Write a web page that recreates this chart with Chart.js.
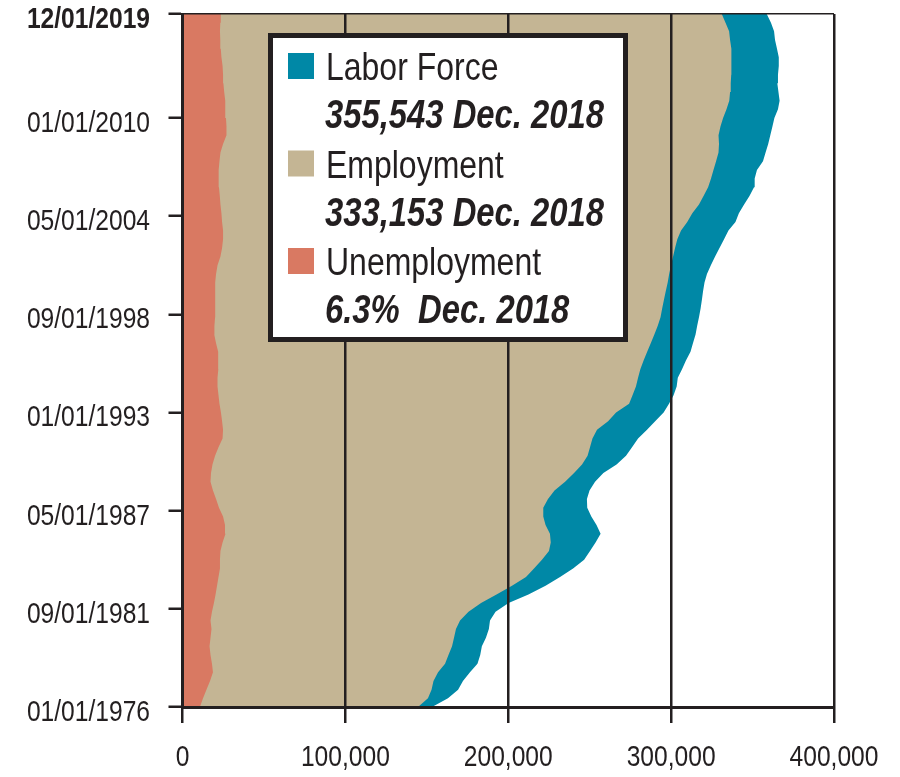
<!DOCTYPE html>
<html>
<head>
<meta charset="utf-8">
<script src="https://cdn.jsdelivr.net/npm/chart.js@4.4.1/dist/chart.umd.min.js"></script>
<style>
  body { margin: 0; background: #fff; }
  #wrap { width: 900px; height: 777px; }
</style>
</head>
<body>
<div id="wrap"><canvas id="chart" width="900" height="777"></canvas></div>
<script>
// Meses desde enero de 1976 (eje vertical)
const months = [0, 6, 12, 18, 24, 30, 36, 42, 48, 54, 60, 66, 72, 78, 84, 90, 96, 102, 108, 114,
  120, 126, 132, 138, 144, 150, 156, 162, 168, 174, 180, 186, 192, 198, 204, 210, 216, 222, 228, 234,
  240, 246, 252, 258, 264, 270, 276, 282, 288, 294, 300, 306, 312, 318, 324, 330, 336, 342, 348, 354,
  360, 366, 372, 378, 384, 390, 396, 402, 408, 414, 420, 426, 432, 438, 444, 450, 456, 462, 468, 474, 480];

const laborForce = [153200, 163000, 169200, 172200, 176500, 181100, 182800, 183800, 186300, 188100,
  188800, 192200, 200200, 212400, 222900, 231800, 239800, 246600, 250200, 253600,
  256700, 254200, 251000, 248500, 248300, 249900, 253300, 258400, 266500, 272300,
  276000, 279700, 285200, 290200, 295400, 298700, 301500, 303400, 304100, 306700,
  309100, 311900, 313400, 315000, 316000, 317100, 318100, 318900, 319600, 320500,
  322000, 324400, 327000, 329700, 332500, 335200, 339500, 341600, 344800, 348100,
  350900, 351300, 352700, 356400, 358000, 359600, 360900, 362200, 363400, 365600,
  366600, 365900, 365200, 365600, 366100, 366100, 365000, 363800, 363200, 361300, 358700];

const employment = [144600, 150700, 152900, 154100, 156900, 161200, 163300, 165500, 166700, 167900,
  170400, 175600, 183300, 192800, 202300, 210900, 215800, 220700, 225000, 226100,
  225600, 222900, 221500, 221500, 224400, 228400, 234900, 240400, 245300, 248700,
  250200, 251700, 254500, 261300, 266200, 274200, 276300, 278400, 279700, 281100,
  283100, 285300, 287500, 289700, 291800, 293500, 294500, 295600, 296700, 297900,
  298800, 299900, 301200, 302400, 303800, 306100, 309900, 313000, 317100, 319900,
  322700, 324500, 326000, 327600, 329100, 329400, 329100, 330300, 331900, 334000,
  335700, 336200, 336600, 336900, 337200, 337000, 336800, 336200, 335600, 333400, 331100];

const unemployment = [10700, 12600, 14700, 16900, 18700, 18100, 17200, 16600, 17200, 17800,
  17200, 18100, 19300, 20300, 21200, 22100, 23000, 23000, 23300, 24600,
  26400, 26100, 24900, 22400, 20600, 18700, 17200, 17500, 18400, 20000,
  22100, 24600, 24900, 24300, 23600, 22700, 22100, 21500, 21500, 22000,
  22000, 21800, 20600, 19500, 19600, 20000, 20000, 20000, 20000, 20300,
  20600, 21500, 23300, 24300, 24900, 24900, 24300, 23900, 23300, 22900,
  22400, 22000, 22400, 22700, 23300, 24900, 27000, 27000, 26700, 26400,
  26100, 25600, 25100, 24900, 24600, 23900, 23500, 23200, 23000, 23200, 23500];

// Etiquetas del eje de fechas
const tickMonths = [0, 68, 136, 204, 272, 340, 408, 480];
const tickLabels = ['01/01/1976', '09/01/1981', '05/01/1987', '01/01/1993',
  '09/01/1998', '05/01/2004', '01/01/2010', '12/01/2019'];

const seriesNames = ['Labor Force', 'Employment', 'Unemployment'];
const seriesNotes = ['355,543 Dec. 2018', '333,153 Dec. 2018', '6.3%  Dec. 2018'];

const INK = '#231f20';
const FONT = "'Liberation Sans', Arial, sans-serif";
const SQUEEZE = 0.82; // letra estrecha

function puntos(valores) {
    return months.map((m, i) => ({ x: valores[i], y: m }));
}

// Texto comprimido horizontalmente
function texto(ctx, str, x, y, font, align) {
    ctx.save();
    ctx.translate(x, y);
    ctx.scale(SQUEEZE, 1);
    ctx.font = font;
    ctx.textAlign = align;
    ctx.textBaseline = 'alphabetic';
    ctx.fillStyle = INK;
    ctx.fillText(str, 0, 0);
    ctx.restore();
}

// Etiquetas de los ejes, colocadas con las escalas del gráfico
const etiquetas = {
    id: 'etiquetas',
    afterDraw(chart) {
        const ctx = chart.ctx;
        const sy = chart.scales.y;
        sy.ticks.forEach((t) => {
            const i = tickMonths.indexOf(t.value);
            const bold = t.value === 480 ? 'bold ' : '';
            texto(ctx, tickLabels[i], 150, sy.getPixelForValue(t.value) + 14, bold + '30px ' + FONT, 'right');
        });
        const sx = chart.scales.x;
        sx.ticks.forEach((t) => {
            texto(ctx, t.value.toLocaleString('en-US'), sx.getPixelForValue(t.value), 766, '30px ' + FONT, 'center');
        });
    }
};

// Leyenda con recuadro, dibujada encima de todo
const leyenda = {
    id: 'leyenda',
    afterDraw(chart) {
        const ctx = chart.ctx;
        ctx.save();
        ctx.fillStyle = '#ffffff';
        ctx.fillRect(268, 33, 360, 309);
        ctx.lineWidth = 5;
        ctx.strokeStyle = INK;
        ctx.strokeRect(270.5, 35.5, 355, 304);
        chart.data.datasets.forEach((ds, i) => {
            const top = 53 + i * 97.5;
            ctx.fillStyle = ds.backgroundColor;
            ctx.fillRect(288, top, 26, 26);
            texto(ctx, ds.label, 326, top + 27, '39px ' + FONT, 'left');
            texto(ctx, seriesNotes[i], 325, top + 75, 'italic bold 40px ' + FONT, 'left');
        });
        ctx.restore();
    }
};

const ctx = document.getElementById('chart').getContext('2d');
const grafico = new Chart(ctx, {
    type: 'line',
    data: {
        datasets: [{
            label: seriesNames[0],
            data: puntos(laborForce),
            backgroundColor: '#0088a6',
            fill: 'origin',
            order: 3
        }, {
            label: seriesNames[1],
            data: puntos(employment),
            backgroundColor: '#c4b594',
            fill: 'origin',
            order: 2
        }, {
            label: seriesNames[2],
            data: puntos(unemployment),
            backgroundColor: '#d97962',
            fill: 'origin',
            order: 1
        }]
    },
    options: {
        indexAxis: 'y',
        responsive: false,
        animation: false,
        elements: {
            point: { radius: 0 },
            line: { borderWidth: 0, tension: 0 }
        },
        layout: { padding: { top: 14, right: 66, left: 0, bottom: 0 } },
        plugins: { legend: { display: false }, tooltip: { enabled: false } },
        scales: {
            x: {
                type: 'linear',
                min: 0,
                max: 400000,
                afterFit(scale) {
                    scale.height = 70;
                    scale.paddingLeft = 0;
                    scale.paddingRight = 0;
                },
                ticks: { stepSize: 100000, display: false },
                grid: { color: INK, lineWidth: 2.5, tickLength: 16, z: 1 },
                border: { display: true, color: INK, width: 3, z: 1 }
            },
            y: {
                type: 'linear',
                min: 0,
                max: 480,
                afterBuildTicks(scale) {
                    scale.ticks = tickMonths.map(v => ({ value: v }));
                },
                afterFit(scale) {
                    scale.width = 182.5;
                    scale.paddingTop = 0;
                    scale.paddingBottom = 0;
                },
                ticks: { display: false },
                grid: {
                    color: (c) => (c.tick && c.tick.value === 480 ? INK : 'rgba(0,0,0,0)'),
                    tickColor: INK,
                    lineWidth: 1.5,
                    tickWidth: 2.5,
                    tickLength: 14,
                    z: 1
                },
                border: { display: true, color: INK, width: 3, z: 1 }
            }
        }
    },
    plugins: [etiquetas, leyenda]
});
</script>
</body>
</html>
